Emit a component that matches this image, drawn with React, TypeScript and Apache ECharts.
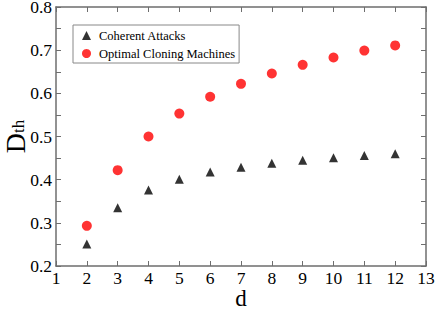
import React, { useEffect, useRef } from "react";
import * as echarts from "echarts";

const dValues = [2, 3, 4, 5, 6, 7, 8, 9, 10, 11, 12];
const coherentAttacks = [0.251, 0.335, 0.376, 0.401, 0.418, 0.429, 0.438, 0.445, 0.451, 0.456, 0.46];
const optimalCloning = [0.293, 0.422, 0.5, 0.553, 0.592, 0.622, 0.646, 0.666, 0.683, 0.699, 0.711];
const seriesNames = ["Coherent Attacks", "Optimal Cloning Machines"];

const FONT = "Liberation Serif";
const AXIS_COLOR = "#6e6e6e";

export default function App() {
  const ref = useRef<HTMLDivElement>(null);
  useEffect(() => {
    if (!ref.current) return;
    const chart = echarts.init(ref.current, undefined, { renderer: "svg" });
    const tickCommon = { show: true, inside: true, length: 5, lineStyle: { color: AXIS_COLOR, width: 1 } };
    chart.setOption({
      animation: false,
      backgroundColor: "#fff",
      grid: { left: 56, right: 10, top: 7, bottom: 43, containLabel: false, outerBoundsMode: "none" },
      legend: {
        left: 73,
        top: 25,
        orient: "vertical",
        itemGap: 5,
        itemWidth: 9,
        itemHeight: 9,
        padding: [4, 4, 3, 9],
        borderColor: "#888",
        borderWidth: 1,
        textStyle: { fontFamily: FONT, fontSize: 12.5, color: "#000", padding: [0, 0, 0, 3] },
        data: [
          { name: seriesNames[0], icon: "triangle" },
          { name: seriesNames[1], icon: "circle" },
        ],
      },
      xAxis: [
        {
          type: "value",
          min: 1,
          max: 13,
          interval: 1,
          name: "d",
          nameLocation: "middle",
          nameGap: 25,
          nameMoveOverlap: false,
          nameTextStyle: { fontFamily: FONT, fontSize: 23, color: "#000", lineHeight: 14 },
          axisLine: { show: true, lineStyle: { color: AXIS_COLOR, width: 1.5 } },
          axisTick: tickCommon,
          axisLabel: { fontFamily: FONT, fontSize: 17.5, color: "#000", margin: 3 },
          splitLine: { show: false },
        },
        {
          type: "value",
          position: "top",
          min: 1,
          max: 13,
          interval: 1,
          axisLine: { show: true, lineStyle: { color: AXIS_COLOR, width: 1.5 } },
          axisTick: tickCommon,
          axisLabel: { show: false },
          splitLine: { show: false },
        },
      ],
      yAxis: [
        {
          type: "value",
          min: 0.2,
          max: 0.8,
          interval: 0.1,
          name: "{a|D}{b|th}",
          nameLocation: "middle",
          nameRotate: 90,
          nameGap: 29,
          nameMoveOverlap: false,
          nameTextStyle: {
            rich: {
              a: { fontFamily: FONT, fontSize: 28, color: "#000", lineHeight: 24 },
              b: { fontFamily: FONT, fontSize: 17, color: "#000", verticalAlign: "bottom", lineHeight: 24 },
            },
          },
          axisLine: { show: true, lineStyle: { color: AXIS_COLOR, width: 1.5 } },
          axisTick: tickCommon,
          minorTick: { show: true, splitNumber: 2, length: 5, lineStyle: { color: AXIS_COLOR, width: 1 } },
          axisLabel: {
            fontFamily: FONT,
            fontSize: 17.5,
            color: "#000",
            margin: 4,
            formatter: (v: number) => v.toFixed(1),
          },
          splitLine: { show: false },
          minorSplitLine: { show: false },
        },
        {
          type: "value",
          position: "right",
          min: 0.2,
          max: 0.8,
          interval: 0.1,
          axisLine: { show: true, lineStyle: { color: AXIS_COLOR, width: 1.5 } },
          axisTick: tickCommon,
          minorTick: { show: true, splitNumber: 2, length: 5, lineStyle: { color: AXIS_COLOR, width: 1 } },
          axisLabel: { show: false },
          splitLine: { show: false },
          minorSplitLine: { show: false },
        },
      ],
      series: [
        {
          name: seriesNames[0],
          type: "scatter",
          symbol: "triangle",
          symbolSize: 9,
          itemStyle: { color: "#000" },
          data: dValues.map((d, i) => [d, coherentAttacks[i]]),
        },
        {
          name: seriesNames[1],
          type: "scatter",
          symbol: "circle",
          symbolSize: 10,
          itemStyle: { color: "#ff0000" },
          data: dValues.map((d, i) => [d, optimalCloning[i]]),
        },
      ],
    });
    return () => chart.dispose();
  }, []);
  return <div ref={ref} style={{ position: "absolute", left: 0, top: 0, width: 436, height: 309 }} />;
}
